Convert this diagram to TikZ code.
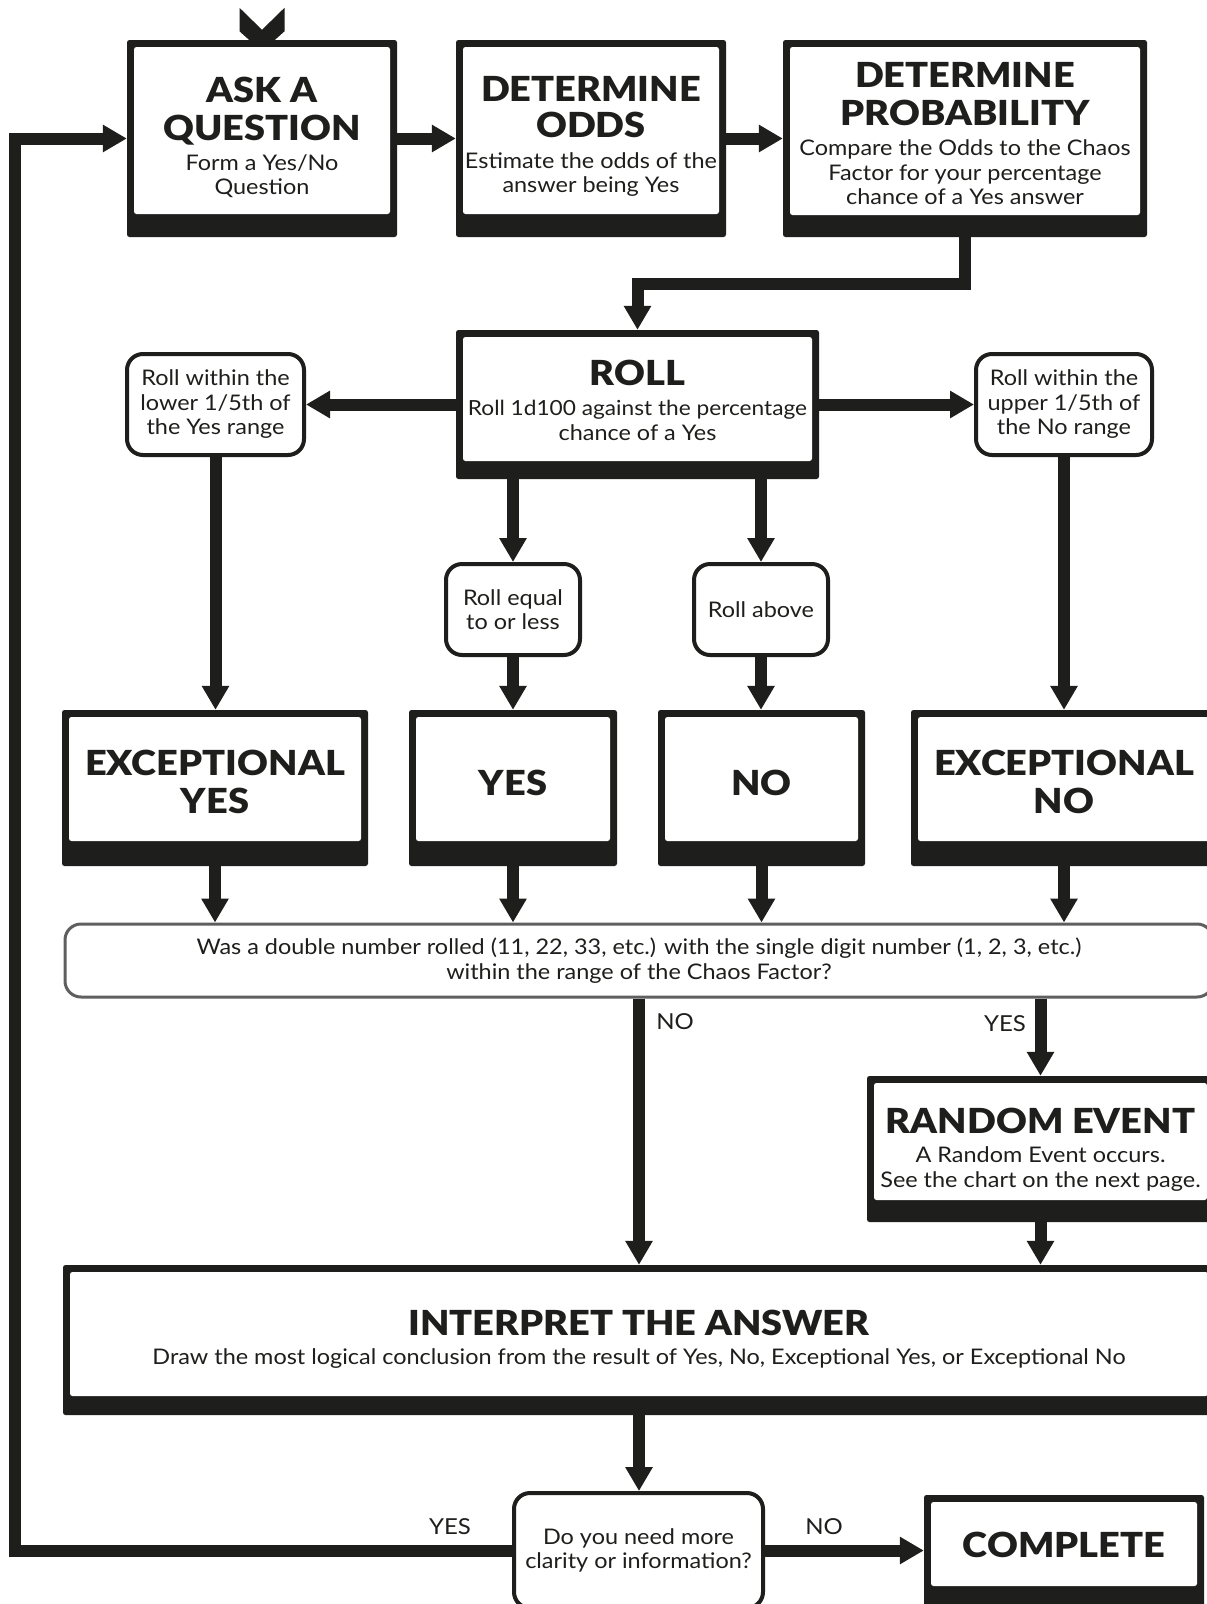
\documentclass[tikz,border=0pt]{standalone}
\usepackage{fontspec}
\setmainfont{Lato}[FakeStretch=1.09]
\newfontfamily\heavyfam{Lato Black}[FakeStretch=1.1]
\usetikzlibrary{arrows.meta,calc}
\definecolor{ink}{RGB}{30,30,28}
\definecolor{rim}{RGB}{95,95,95}
\newcommand\headfont{\fontsize{34.5}{38}\selectfont\heavyfam}
\newcommand\copyfont{\fontsize{21.5}{24.5}\selectfont\lineskiplimit=-100pt\relax}
\newcommand\tightfont{\fontsize{20.8}{24.5}\selectfont}

\tikzset{
  frame/.style={fill=ink, draw=none, inner sep=0pt, rounded corners=2.5pt,
    path picture={\fill[white]
      ([shift={(7pt,#1)}]path picture bounding box.south west) rectangle
      ([shift={(-7pt,-7pt)}]path picture bounding box.north east);}},
  boxtext/.style={align=center, inner sep=0pt, text=ink, font=\copyfont},
  soft/.style={draw=ink, line width=4pt, fill=white, rounded corners=16pt,
    inner sep=0pt, align=center, text=ink, font=\copyfont},
  query/.style={draw=rim, line width=3pt, fill=white, rounded corners=16pt,
    inner sep=0pt, align=center, text=ink, font=\copyfont},
  arr/.style={draw=ink, line width=12pt, -{Triangle[width=26pt,length=24pt]}},
  tag/.style={text=ink, font=\fontsize{22}{24}\selectfont, inner sep=0pt},
}

% heavy frame with a thick base band: name, x1, y1, x2, y2, band, text drop, text
\newcommand\flowbox[8]{%
  \node[frame=#6pt, minimum width={(#4-#2)*1pt}, minimum height={(#5-#3)*1pt}]
    (#1) at ({(#2+#4)/2},{(#3+#5)/2}) {};
  \node[boxtext] (#1-t) at ([yshift={((#6-7)/2-#7)*1pt}]#1.center) {#8};}

% rounded outline box: name, x1, y1, x2, y2, style, text
\newcommand\softbox[7]{%
  \node[#6, minimum width={(#4-#2-4)*1pt}, minimum height={(#5-#3-4)*1pt}]
    (#1) at ({(#2+#4)/2},{(#3+#5)/2}) {#7};}

\begin{document}
\begin{tikzpicture}[x=1pt, y=-1pt]
\fill[white] (0,0) rectangle (1207,1604);
\useasboundingbox (0,0) rectangle (1207,1604);

% process boxes
\flowbox{ask}{127}{40}{397}{237}{23}{7}{{\headfont ASK A}\\[13.5pt]{\headfont QUESTION}\\[5pt]Form a Yes/No\\Question}
\flowbox{odds}{456}{40}{726}{237}{23}{6}{{\headfont DETERMINE}\\[12pt]{\headfont ODDS}\\[6pt]Estimate the odds of the\\answer being Yes}
\flowbox{prob}{783}{40}{1147}{237}{22}{3}{{\headfont DETERMINE}\\[13.5pt]{\headfont PROBABILITY}\\[5.5pt]Compare the Odds to the Chaos\\Factor for your percentage\\chance of a Yes answer}
\flowbox{roll}{456}{330}{819}{479}{18}{1.5}{{\headfont ROLL}\\[5.5pt]{\tightfont Roll 1d100 against the percentage}\\chance of a Yes}
\flowbox{excyes}{62}{710}{368}{866}{25}{2.5}{{\headfont EXCEPTIONAL}\\[13.5pt]{\headfont YES}}
\flowbox{yes}{409}{710}{617}{866}{25}{4}{{\headfont YES}}
\flowbox{no}{658}{710}{865}{866}{25}{4}{{\headfont NO}}
\flowbox{excno}{911}{710}{1217}{866}{25}{2.5}{{\headfont EXCEPTIONAL}\\[13.5pt]{\headfont NO}}
\flowbox{random}{867}{1076}{1214}{1222}{22}{8}{{\headfont RANDOM EVENT}\\[4.5pt]A Random Event occurs.\\[1pt]See the chart on the next page.}
\flowbox{interp}{63}{1265}{1215}{1415}{19}{5}{{\headfont INTERPRET THE ANSWER}\\[4.5pt]Draw the most logical conclusion from the result of Yes, No, Exceptional Yes, or Exceptional No}
\flowbox{complete}{924}{1495}{1204}{1609}{23}{1}{{\headfont COMPLETE}}

% rounded condition boxes
\softbox{lowyes}{125}{352}{306}{457}{soft}{Roll within the\\lower 1/5th of\\the Yes range}
\softbox{upno}{974}{352}{1154}{457}{soft}{Roll within the\\upper 1/5th of\\the No range}
\softbox{eq}{444}{562}{582}{657}{soft}{Roll equal\\to or less}
\softbox{above}{692}{562}{830}{657}{soft}{Roll above}
\softbox{double}{63}{922}{1215}{999}{query}{Was a double number rolled (11, 22, 33, etc.) with the single digit number (1, 2, 3, etc.)\\within the range of the Chaos Factor?}
\softbox{need}{512}{1491}{765}{1610}{soft}{Do you need more\\clarity or information?}

% incoming tip from above
\fill[ink] ($(ask.north)+(-22.5,-32)$) -- ($(ask.north)+(0,-10)$) -- ($(ask.north)+(22.5,-32)$)
  -- ($(ask.north)+(22.5,-8.5)$) -- ($(ask.north)+(13,0)$) -- ($(ask.north)+(-13,0)$)
  -- ($(ask.north)+(-22.5,-8.5)$) -- cycle;

% connectors
\draw[arr] (ask.east) -- (odds.west);
\draw[arr] (odds.east) -- (prob.west);
\draw[arr] (prob.south) -- ++(0,47) -| (roll.north);
\draw[arr] (roll.west) -- (lowyes.east);
\draw[arr] (roll.east) -- (upno.west);
\draw[arr] (roll.south -| eq.north) -- (eq.north);
\draw[arr] (roll.south -| above.north) -- (above.north);
\draw[arr] (lowyes.south) -- (lowyes.south |- excyes.north);
\draw[arr] (upno.south) -- (upno.south |- excno.north);
\draw[arr] (eq.south) -- (eq.south |- yes.north);
\draw[arr] (above.south) -- (above.south |- no.north);
\draw[arr] (excyes.south) -- (excyes.south |- double.north);
\draw[arr] (yes.south) -- (yes.south |- double.north);
\draw[arr] (no.south) -- (no.south |- double.north);
\draw[arr] (excno.south) -- (excno.south |- double.north);
\draw[arr] (double.south) -- (double.south |- interp.north);
\draw[arr] (double.south -| random.north) -- (random.north);
\draw[arr] (random.south) -- (random.south |- interp.north);
\draw[arr] (interp.south) -- (interp.south |- need.north);
\draw[arr] (need.east) -- (need.east -| complete.west);
\coordinate (loop) at (15,0);
\draw[arr] (need.west) -| (loop |- ask.west) -- (ask.west);

% branch labels
\node[tag] (noA) at (675,1022) {NO};
\node[tag] (yesA) at (1005,1024) {YES};
\node[tag] (yesB) at (450,1527) {YES};
\node[tag] (noB) at (824,1527) {NO};
\end{tikzpicture}
\end{document}
